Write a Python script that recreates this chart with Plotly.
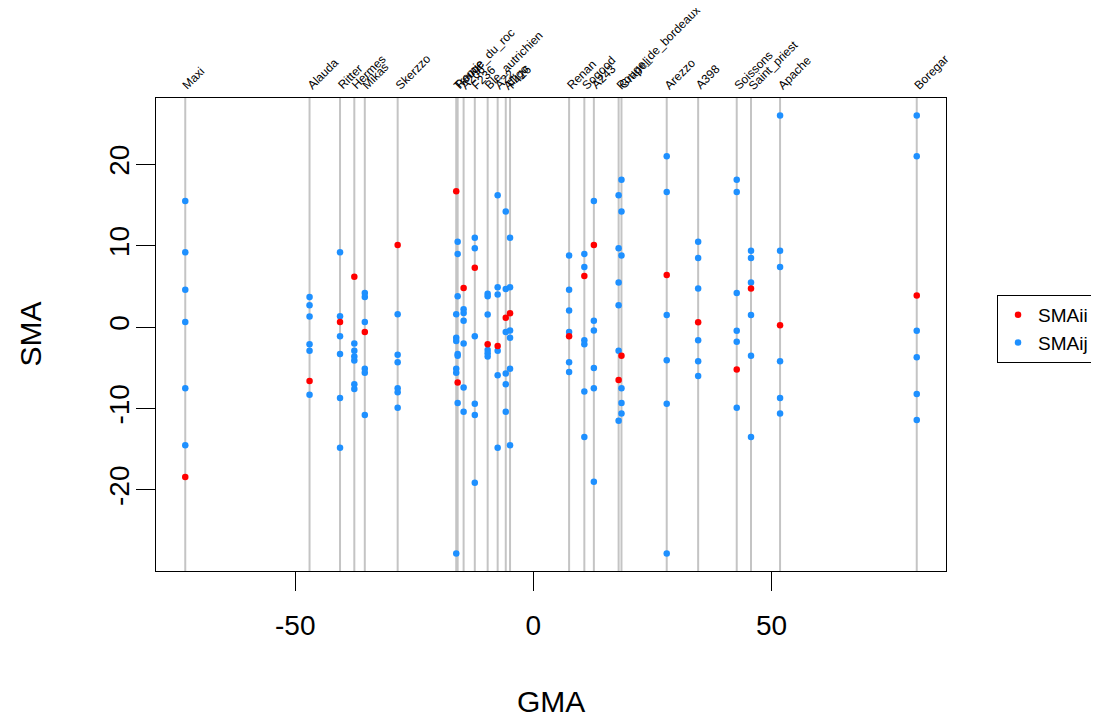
import plotly.graph_objects as go

# ---- data ----
parents = ["Maxi", "Alauda", "Ritter", "Hermes", "Mikas", "Skerzzo",
           "Tremie_du_roc", "Rouge", "A206", "F236", "Ble_autrichien", "A22",
           "Alligo", "F426", "Renan", "Sogood", "A243", "Rouge_de_bordeaux",
           "Grapeli", "Arezzo", "A398", "Soissons", "Saint_priest", "Apache",
           "Boregar"]

gma = [-73.1, -47.0, -40.6, -37.6, -35.4, -28.5,
       -16.2, -15.9, -14.65, -12.3, -9.6, -7.5,
       -5.8, -4.9, 7.5, 10.7, 12.7, 17.9,
       18.5, 28.0, 34.6, 42.7, 45.7, 51.8,
       80.5]

sma_ii = [-18.4, -6.6, 0.65, 6.2, -0.6, 10.1,
          16.7, -6.8, 4.8, 7.3, -2.1, -2.3,
          1.15, 1.7, -1.1, 6.3, 10.1, -6.5,
          -3.5, 6.4, 0.6, -5.2, 4.75, 0.25,
          3.9]

sma_ij = [
    [15.5, 9.2, 4.6, 0.65, -7.5, -14.5],     # Maxi
    [3.7, 2.7, 1.3, -2.1, -2.9, -8.3],       # Alauda
    [9.2, 1.35, -1.1, -3.3, -8.7, -14.8],    # Ritter
    [-2.0, -2.9, -3.6, -4.1, -7.0, -7.6],    # Hermes
    [4.2, 3.7, 0.65, -5.1, -5.6, -10.8],     # Mikas
    [1.6, -3.4, -4.3, -7.5, -8.0, -9.9],     # Skerzzo
    [1.6, -1.3, -1.7, -5.1, -5.6, -27.8],    # Tremie_du_roc
    [10.5, 9.0, 3.8, -3.3, -3.5, -9.3],      # Rouge
    [2.2, 1.75, 0.8, -2.0, -7.4, -10.4],     # A206
    [11.0, 9.7, -1.1, -9.4, -10.8, -19.1],   # F236
    [4.1, 3.8, 1.55, -2.8, -3.2, -3.6],      # Ble_autrichien
    [16.2, 4.9, 4.0, -2.9, -5.9, -14.8],     # A22
    [14.2, 4.7, -0.6, -5.7, -7.0, -10.4],    # Alligo
    [11.0, 4.9, -0.4, -1.3, -5.1, -14.5],    # F426
    [8.8, 4.6, 2.05, -0.6, -4.3, -5.5],      # Renan
    [9.0, 7.4, -1.6, -2.1, -7.9, -13.5],     # Sogood
    [15.5, 0.8, -0.4, -5.0, -7.5, -19.0],    # A243
    [16.2, 9.7, 5.5, 2.7, -2.9, -11.5],      # Rouge_de_bordeaux
    [18.1, 14.2, 8.8, -7.5, -9.3, -10.6],    # Grapeli
    [21.0, 16.6, 1.5, -4.05, -9.4, -27.8],   # Arezzo
    [10.5, 8.5, 4.75, -1.6, -4.2, -6.0],     # A398
    [18.1, 16.6, 4.2, -0.45, -1.8, -9.9],    # Soissons
    [9.4, 8.5, 5.5, 1.5, -3.5, -13.5],       # Saint_priest
    [26.0, 9.4, 7.4, -4.2, -8.7, -10.6],     # Apache
    [26.0, 21.0, -0.45, -3.7, -8.2, -11.4],  # Boregar
]

x_ticks = [-50, 0, 50]
x_tick_labels = ["-50", "0", "50"]
y_ticks = [-20, -10, 0, 10, 20]
y_tick_labels = ["-20", "-10", "0", "10", "20"]

# ---- figure ----
FONT = "Liberation Sans, Arial, sans-serif"
RED = "#FF0000"
BLUE = "#1E90FF"

ij_x, ij_y = [], []
for g, vals in zip(gma, sma_ij):
    for v in vals:
        ij_x.append(g)
        ij_y.append(v)

fig = go.Figure()
fig.add_trace(go.Scatter(x=ij_x, y=ij_y, mode="markers", name="SMAij",
                         marker=dict(color=BLUE, size=6.5), legendrank=2))
fig.add_trace(go.Scatter(x=gma, y=sma_ii, mode="markers", name="SMAii",
                         marker=dict(color=RED, size=6.5), legendrank=1))

# R-style axis range (4% extension)
xmin, xmax = min(gma), max(gma)
all_y = sma_ii + ij_y
ymin, ymax = min(all_y), max(all_y)
dx = (xmax - xmin) * 0.04
dy = (ymax - ymin) * 0.04

shapes = []
annotations = []
for name, g in zip(parents, gma):
    shapes.append(dict(type="line", xref="x", yref="paper", x0=g, x1=g,
                       y0=0, y1=1, layer="below",
                       line=dict(color="#C4C4C4", width=2)))
    annotations.append(dict(x=g, y=1, xref="x", yref="paper", text=name,
                            textangle=-45, xanchor="left", yanchor="bottom",
                            xshift=-8, yshift=3, showarrow=False,
                            font=dict(family=FONT, size=12, color="black")))

annotations.append(dict(x=0.5, y=0, xref="paper", yref="paper", text="GMA",
                        xanchor="center", yanchor="middle", yshift=-130,
                        showarrow=False,
                        font=dict(family=FONT, size=30, color="black")))
annotations.append(dict(x=0, y=0.5, xref="paper", yref="paper", text="SMA",
                        xanchor="center", yanchor="middle", xshift=-126,
                        textangle=-90, showarrow=False,
                        font=dict(family=FONT, size=30, color="black")))

fig.update_layout(
    width=1099, height=719,
    margin=dict(l=148, r=161, t=90, b=156, autoexpand=False),
    paper_bgcolor="white", plot_bgcolor="white",
    font=dict(family=FONT, size=28, color="black"),
    shapes=shapes, annotations=annotations,
    showlegend=True,
    legend=dict(x=1.0646, y=0.5835, xanchor="left", yanchor="top",
                bordercolor="black", borderwidth=1,
                font=dict(family=FONT, size=19, color="black"),
                tracegroupgap=0),
)
fig.update_xaxes(range=[xmin - dx, xmax + dx], tickvals=x_ticks,
                 ticktext=x_tick_labels, automargin=False,
                 ticks="outside", ticklen=19, tickcolor="black",
                 ticklabelstandoff=10,
                 showline=True, linecolor="black", linewidth=1, mirror=True,
                 showgrid=False, zeroline=False,
                 tickfont=dict(family=FONT, size=28, color="black"))
fig.update_yaxes(range=[ymin - dy, ymax + dy], tickvals=y_ticks,
                 ticktext=y_tick_labels, automargin=False,
                 ticks="outside", ticklen=19, tickcolor="black",
                 tickangle=-90, ticklabelstandoff=-4,
                 showline=True, linecolor="black", linewidth=1, mirror=True,
                 showgrid=False, zeroline=False,
                 tickfont=dict(family=FONT, size=28, color="black"))

fig.write_html("out.html")
